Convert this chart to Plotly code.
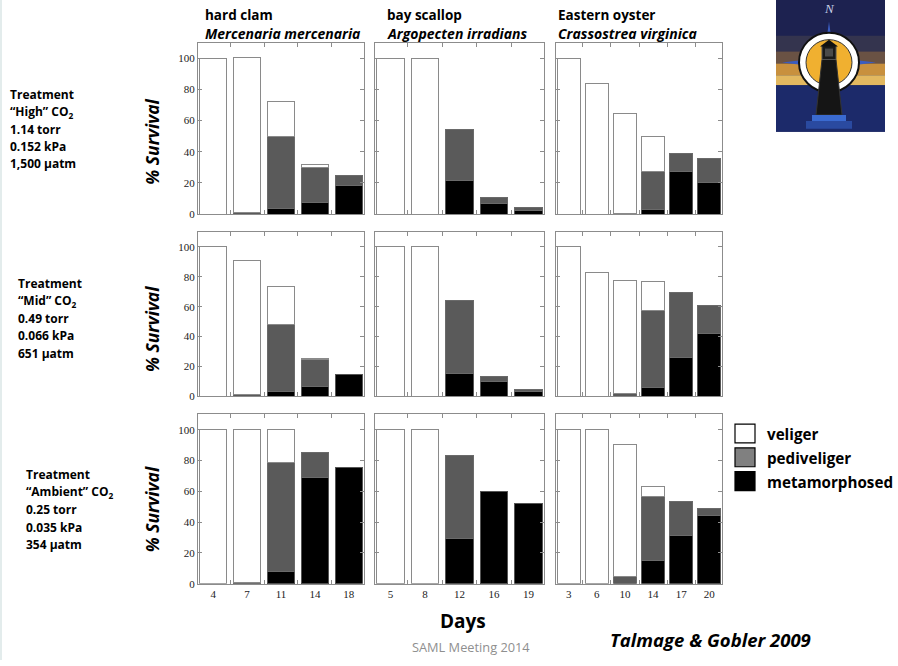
import plotly.graph_objects as go

# ---- data: % survival by larval stage (stacked: metamorphosed, pediveliger, veliger)
species = ["hard clam", "bay scallop", "Eastern oyster"]
latin = ["Mercenaria mercenaria", "Argopecten irradians", "Crassostrea virginica"]
days_clam = ["4", "7", "11", "14", "18"]
days_scallop = ["5", "8", "12", "16", "19"]
days_oyster = ["3", "6", "10", "14", "17", "20"]

treatments = ["High", "Mid", "Ambient"]
treat_info = [
    ["1.14 torr", "0.152 kPa", "1,500 µatm"],
    ["0.49 torr", "0.066 kPa", "651 µatm"],
    ["0.25 torr", "0.035 kPa", "354 µatm"],
]

# High CO2
high_clam_meta = [0, 0, 3.5, 7.5, 18.5]
high_clam_ped = [0, 1, 46.5, 22.5, 6.5]
high_clam_vel = [100, 99.5, 22.5, 1.5, 0]
high_scallop_meta = [0, 0, 21.5, 7, 2.5]
high_scallop_ped = [0, 0, 32.5, 3.5, 1.5]
high_scallop_vel = [100, 100, 0, 0, 0]
high_oyster_meta = [0, 0, 0, 3, 27, 20]
high_oyster_ped = [0, 0, 0.5, 24.5, 12, 15.5]
high_oyster_vel = [99.5, 84, 64, 22.5, 0, 0]

# Mid CO2
mid_clam_meta = [0, 0, 3.5, 6.5, 14.5]
mid_clam_ped = [0, 1.2, 44.5, 18.5, 0]
mid_clam_vel = [100, 90, 25.5, 0.5, 0]
mid_scallop_meta = [0, 0, 15.5, 10, 3]
mid_scallop_ped = [0, 0, 48.5, 3.5, 1.5]
mid_scallop_vel = [100, 100, 0, 0, 0]
mid_oyster_meta = [0, 0, 0, 6, 26, 42]
mid_oyster_ped = [0, 0, 2.2, 51.5, 43.5, 19]
mid_oyster_vel = [100, 82.6, 75, 19, 0, 0]

# Ambient CO2
amb_clam_meta = [0, 0, 7.7, 69, 75.6]
amb_clam_ped = [0, 0.6, 70.7, 16.4, 0]
amb_clam_vel = [100, 99.4, 21.6, 0, 0]
amb_scallop_meta = [0, 0, 29.5, 59.6, 52]
amb_scallop_ped = [0, 0, 53.7, 0, 0]
amb_scallop_vel = [100, 100, 0, 0, 0]
amb_oyster_meta = [0, 0, 0, 15, 31.6, 44]
amb_oyster_ped = [0, 0, 4.5, 41.3, 21.9, 5]
amb_oyster_vel = [100, 100, 85.8, 6.5, 0, 0]

panels = [
    [(days_clam, high_clam_meta, high_clam_ped, high_clam_vel),
     (days_scallop, high_scallop_meta, high_scallop_ped, high_scallop_vel),
     (days_oyster, high_oyster_meta, high_oyster_ped, high_oyster_vel)],
    [(days_clam, mid_clam_meta, mid_clam_ped, mid_clam_vel),
     (days_scallop, mid_scallop_meta, mid_scallop_ped, mid_scallop_vel),
     (days_oyster, mid_oyster_meta, mid_oyster_ped, mid_oyster_vel)],
    [(days_clam, amb_clam_meta, amb_clam_ped, amb_clam_vel),
     (days_scallop, amb_scallop_meta, amb_scallop_ped, amb_scallop_vel),
     (days_oyster, amb_oyster_meta, amb_oyster_ped, amb_oyster_vel)],
]

stage_names = ["metamorphosed", "pediveliger", "veliger"]
stage_colors = ["#000000", "#5a5a5a", "#ffffff"]
stage_lines = ["#555555", "#6a6a6a", "#8a8a8a"]

W, H = 898, 666


def fx(x):
    return x / W


def fy(y):
    return 1 - y / H


col_px = [(198, 364), (375, 544), (556, 722)]
row_px = [(43, 216), (234, 400), (418, 589)]

SERIF = "Liberation Serif, Times New Roman, serif"
SANS = "Open Sans, Noto Sans, sans-serif"
FRAME = "#8c8c8c"

fig = go.Figure()
layout = {}

for r in range(3):
    for c in range(3):
        k = r * 3 + c + 1
        xa = "x" if k == 1 else f"x{k}"
        ya = "y" if k == 1 else f"y{k}"
        days, meta, ped, vel = panels[r][c]
        for name, vals, col, lc in zip(stage_names, (meta, ped, vel), stage_colors, stage_lines):
            fig.add_trace(go.Bar(
                x=days, y=[v if v > 0 else None for v in vals],
                name=name, marker=dict(color=col, line=dict(color=lc, width=1)),
                xaxis=xa, yaxis=ya, showlegend=False,
            ))
        n = len(days)
        layout["xaxis" if k == 1 else f"xaxis{k}"] = dict(
            domain=[fx(col_px[c][0]), fx(col_px[c][1])],
            anchor=ya, type="category", range=[-0.45, n - 0.55],
            tickson="boundaries", ticks="inside", ticklen=4, tickcolor=FRAME,
            showline=True, linecolor=FRAME, linewidth=1, mirror="ticks",
            showgrid=False, zeroline=False,
            showticklabels=(r == 2),
            tickfont=dict(family=SERIF, size=11, color="#222"),
        )
        layout["yaxis" if k == 1 else f"yaxis{k}"] = dict(
            domain=[fy(row_px[r][1]), fy(row_px[r][0])],
            anchor=xa, range=[0, 110],
            tickvals=[0, 20, 40, 60, 80, 100], ticks="inside", ticklen=4,
            tickcolor=FRAME, showline=True, linecolor=FRAME, linewidth=1,
            mirror="ticks", showgrid=False, zeroline=False,
            showticklabels=(c == 0),
            tickfont=dict(family=SERIF, size=11, color="#222"),
        )

annotations = []
# species headings
title_x = [203, 385, 556]
for c in range(3):
    annotations.append(dict(x=fx(title_x[c]), y=fy(15), xref="paper", yref="paper",
                            xanchor="left", yanchor="middle", showarrow=False,
                            text=f"<b>{species[c]}</b>",
                            font=dict(family=SANS, size=13.5, color="#000")))
    annotations.append(dict(x=fx(title_x[c]), y=fy(34), xref="paper", yref="paper",
                            xanchor="left", yanchor="middle", showarrow=False,
                            text=f"<b><i>{latin[c]}</i></b>",
                            font=dict(family=SANS, size=14, color="#000")))

# treatment descriptions
block_x = [8, 16, 24]
block_y0 = [95, 286, 479]
for r in range(3):
    lines = ["Treatment", f"“{treatments[r]}” CO<sub>2</sub>"] + treat_info[r]
    for i, line in enumerate(lines):
        annotations.append(dict(x=fx(block_x[r]), y=fy(block_y0[r] + i * 17.6),
                                xref="paper", yref="paper", xanchor="left",
                                yanchor="middle", showarrow=False,
                                text=f"<b>{line}</b>",
                                font=dict(family=SANS, size=12, color="#000")))

# y-axis titles
surv_y = [143, 332, 514]
for r in range(3):
    annotations.append(dict(x=fx(152), y=fy(surv_y[r]), xref="paper", yref="paper",
                            xanchor="center", yanchor="middle", showarrow=False,
                            textangle=-90, text="<b><i>% Survival</i></b>",
                            font=dict(family=SANS, size=17.5, color="#000")))

annotations.append(dict(x=fx(463), y=fy(627), xref="paper", yref="paper",
                        xanchor="center", yanchor="middle", showarrow=False,
                        text="<b>Days</b>", font=dict(family=SANS, size=19, color="#000")))
annotations.append(dict(x=fx(471), y=fy(653), xref="paper", yref="paper",
                        xanchor="center", yanchor="middle", showarrow=False,
                        text="SAML Meeting 2014", font=dict(family=SANS, size=12.8, color="#8f8f8f")))
annotations.append(dict(x=fx(710), y=fy(645), xref="paper", yref="paper",
                        xanchor="center", yanchor="middle", showarrow=False,
                        text="<b><i>Talmage &amp; Gobler 2009</i></b>",
                        font=dict(family=SANS, size=18.5, color="#000")))

# stage key
shapes = []
key_fill = ["#ffffff", "#808080", "#000000"]
key_text = ["veliger", "pediveliger", "metamorphosed"]
for i in range(3):
    y0 = 428 + i * 24
    shapes.append(dict(type="rect", xref="paper", yref="paper",
                       x0=fx(735), x1=fx(755), y0=fy(y0), y1=fy(y0 + 19),
                       fillcolor=key_fill[i], line=dict(color="#000", width=1.2)))
    annotations.append(dict(x=fx(765), y=fy(y0 + 10), xref="paper", yref="paper",
                            xanchor="left", yanchor="middle", showarrow=False,
                            text=f"<b>{key_text[i]}</b>",
                            font=dict(family=SANS, size=15.2, color="#000")))

# faint slide edge
shapes.append(dict(type="rect", xref="paper", yref="paper", x0=0, x1=fx(2), y0=0, y1=1,
                   fillcolor="#e3ecec", line=dict(width=0), layer="below"))


# lighthouse emblem (top right)
def path(points):
    return "M " + " L ".join(f"{fx(px)},{fy(py)}" for px, py in points) + " Z"


def rect(x0, y0, x1, y1, fill, line=None, width=0):
    return dict(type="rect", xref="paper", yref="paper", x0=fx(x0), x1=fx(x1),
                y0=fy(y1), y1=fy(y0), fillcolor=fill,
                line=dict(color=line or fill, width=width))


def circ(cx, cy, rad, fill, line=None, width=0):
    return dict(type="circle", xref="paper", yref="paper", x0=fx(cx - rad), x1=fx(cx + rad),
                y0=fy(cy + rad), y1=fy(cy - rad), fillcolor=fill,
                line=dict(color=line or fill, width=width))


def poly(points, fill, line=None, width=0):
    return dict(type="path", xref="paper", yref="paper", path=path(points),
                fillcolor=fill, line=dict(color=line or fill, width=width))


shapes += [
    rect(776, 0, 885, 133, "#1d2250"),
    rect(776, 36, 885, 52, "#34344e"),
    rect(776, 52, 885, 64, "#6a5244"),
    rect(776, 64, 885, 76, "#c8903e"),
    rect(776, 76, 885, 86, "#e2b860"),
    rect(776, 86, 885, 133, "#1c2a6a"),
    poly([(829, 22), (834, 58), (829, 63), (824, 58)], "#3a5cc0"),
    poly([(782, 63), (824, 58), (829, 63), (824, 68)], "#3a5cc0"),
    poly([(876, 63), (834, 58), (829, 63), (834, 68)], "#3a5cc0"),
    circ(829, 63, 30, "#ffffff", "#111111", 2),
    circ(829, 63, 23, "#f0b030", "#333333", 1),
    poly([(822, 60), (836, 60), (842, 116), (816, 116)], "#151515", "#333333", 1),
    rect(822, 46, 836, 60, "#1a1a1a", "#555555", 1),
    rect(825, 49, 833, 57, "#4a4a4a"),
    poly([(820, 47), (829, 40), (838, 47)], "#111111"),
    rect(812, 116, 846, 122, "#3a6ad0"),
    rect(806, 122, 852, 130, "#2a4aa0"),
]
annotations.append(dict(x=fx(829), y=fy(9), xref="paper", yref="paper",
                        xanchor="center", yanchor="middle", showarrow=False,
                        text="<i>N</i>", font=dict(family=SERIF, size=13, color="#c8d0e8")))

fig.update_layout(
    **layout,
    barmode="stack",
    bargap=0.19,
    width=W, height=H,
    margin=dict(l=0, r=0, t=0, b=0),
    paper_bgcolor="#ffffff", plot_bgcolor="#ffffff",
    showlegend=False,
    annotations=annotations,
    shapes=shapes,
)

fig.write_html("out.html")
